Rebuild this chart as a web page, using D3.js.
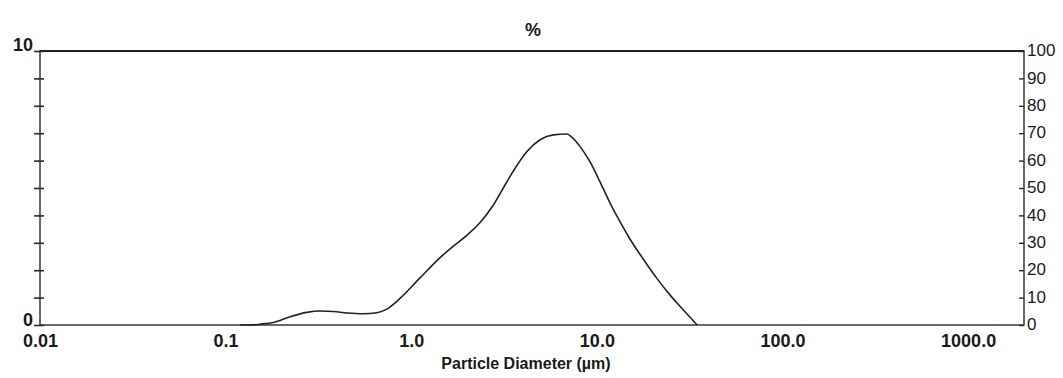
<!DOCTYPE html>
<html>
<head>
<meta charset="utf-8">
<script src="https://cdn.jsdelivr.net/npm/d3@7"></script>
<style>
  html, body { margin: 0; padding: 0; background: #fff; }
  svg { display: block; }
  text { font-family: "Liberation Sans", Arial, sans-serif; fill: #1a1a1a; }
</style>
</head>
<body>
<svg id="chart" width="1063" height="378"></svg>
<script>
// Particle size distribution (volume %) vs particle diameter, log scale
const diameterUm = [0.12, 0.1354, 0.1532, 0.1807, 0.2223, 0.2735, 0.3226, 0.3804, 0.4493, 0.552,
  0.652, 0.738, 0.87, 1.115, 1.43, 1.686, 1.991, 2.349, 2.77, 3.27, 3.55, 4.19, 4.94, 5.83,
  6.88, 7.47, 8.12, 9.19, 10.4, 11.78, 13.34, 15.1, 17.8, 21.0, 24.8, 29.25, 34.7];
const volumePct = [0, 0, 0.03, 0.09, 0.30, 0.46, 0.51, 0.49, 0.44, 0.41,
  0.45, 0.58, 0.97, 1.72, 2.46, 2.88, 3.27, 3.74, 4.38, 5.22, 5.62, 6.32, 6.76, 6.94,
  6.97, 6.80, 6.51, 5.95, 5.22, 4.45, 3.76, 3.13, 2.40, 1.71, 1.09, 0.55, 0];

const xTickValues = [0.01, 0.1, 1, 10, 100, 1000];
const xTickLabels = ["0.01", "0.1", "1.0", "10.0", "100.0", "1000.0"];
const leftTickValues = [0, 1, 2, 3, 4, 5, 6, 7, 8, 9, 10];
const leftLabelled = [0, 10];
const rightTickValues = [0, 10, 20, 30, 40, 50, 60, 70, 80, 90, 100];

const svg = d3.select("#chart");
const plot = { left: 40, right: 1024, top: 51, bottom: 325 };

const x = d3.scaleLog().domain([0.01, 2000]).range([plot.left, plot.right]);
const yL = d3.scaleLinear().domain([0, 10]).range([plot.bottom, plot.top]);
const yR = d3.scaleLinear().domain([0, 100]).range([plot.bottom, plot.top]);

const ink = "#2a2a2a";

// frame
svg.append("rect")
  .attr("x", plot.left).attr("y", plot.top)
  .attr("width", plot.right - plot.left).attr("height", plot.bottom - plot.top)
  .attr("fill", "none").attr("stroke", ink).attr("stroke-width", 1.4);
// heavier top rule
svg.append("line")
  .attr("x1", plot.left).attr("x2", plot.right)
  .attr("y1", plot.top).attr("y2", plot.top)
  .attr("stroke", "#222").attr("stroke-width", 2);

// left axis: ticks crossing the axis line
const leftAxis = d3.axisLeft(yL).tickValues(leftTickValues).tickSize(6).tickFormat("");
const gL = svg.append("g").attr("transform", `translate(${plot.left},0)`).call(leftAxis);
gL.select(".domain").remove();
gL.selectAll(".tick line").attr("x1", -6).attr("x2", 4).attr("stroke", ink).attr("stroke-width", 1.6);
svg.selectAll(".leftLabel").data(leftLabelled).enter().append("text")
  .attr("class", "leftLabel")
  .attr("x", 33).attr("y", d => yL(d) + (d === 0 ? 1 : 0))
  .attr("text-anchor", "end")
  .attr("font-size", 18).attr("font-weight", "bold")
  .text(d => d);

// right axis: short inward ticks with percentage labels
const rightAxis = d3.axisRight(yR).tickValues(rightTickValues).tickSize(0).tickFormat(d => d);
const gR = svg.append("g").attr("transform", `translate(${plot.right},0)`).call(rightAxis);
gR.select(".domain").remove();
gR.selectAll(".tick line").attr("x1", -5).attr("x2", 0).attr("stroke", ink).attr("stroke-width", 1.4);
gR.selectAll(".tick text")
  .attr("x", 3).attr("dy", "0.28em")
  .attr("font-size", 17).attr("font-family", "Liberation Sans, Arial, sans-serif")
  .attr("fill", "#1a1a1a").attr("text-anchor", "start");

// bottom axis labels
const bottomAxis = d3.axisBottom(x).tickValues(xTickValues).tickSize(0)
  .tickFormat((d, i) => xTickLabels[i]);
const gB = svg.append("g").attr("transform", `translate(0,${plot.bottom})`).call(bottomAxis);
gB.select(".domain").remove();
gB.selectAll(".tick text")
  .attr("y", 22).attr("dy", 0)
  .attr("font-size", 18).attr("font-weight", "bold")
  .attr("font-family", "Liberation Sans, Arial, sans-serif").attr("fill", "#1a1a1a");

// axis titles
svg.append("text")
  .attr("x", 526).attr("y", 369).attr("text-anchor", "middle")
  .attr("font-size", 16).attr("font-weight", "bold")
  .text("Particle Diameter (µm)");
svg.append("text")
  .attr("x", 533).attr("y", 36).attr("text-anchor", "middle")
  .attr("font-size", 18).attr("font-weight", "bold")
  .text("%");

// distribution curve
const pts = diameterUm.map((d, i) => [d, volumePct[i]]);
const line = d3.line()
  .x(d => x(d[0])).y(d => yL(d[1]))
  .curve(d3.curveMonotoneX);
svg.append("path")
  .datum(pts)
  .attr("d", line)
  .attr("fill", "none").attr("stroke", "#222").attr("stroke-width", 1.6)
  .attr("stroke-linejoin", "round");
</script>
</body>
</html>
